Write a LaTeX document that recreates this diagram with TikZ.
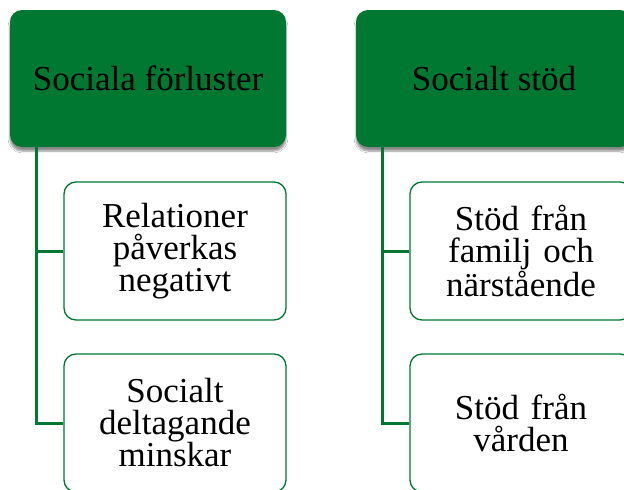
\documentclass[tikz,border=0pt]{standalone}
\usepackage{fontspec}
\setmainfont{Liberation Serif}
\usepackage{tikz}
\usetikzlibrary{shadows.blur}
\definecolor{hdgreen}{RGB}{0,120,50}

\tikzset{
  headbox/.style={rectangle, rounded corners=12pt, fill=hdgreen, minimum width=276pt, minimum height=137pt,
    inner sep=0pt, font=\fontsize{35}{32}\selectfont,
    blur shadow={shadow xshift=0pt, shadow yshift=-4pt, shadow blur steps=6, shadow opacity=45}},
  itembox/.style={rectangle, rounded corners=12pt, draw=hdgreen, line width=1.3pt, fill=white,
    minimum width=222pt, minimum height=138pt, text width=210pt, align=center, inner sep=0pt,
    font=\fontsize{35}{32}\selectfont},
  branch/.style={draw=hdgreen, line width=3pt}
}

\begin{document}
\begin{tikzpicture}[x=1pt,y=-1pt]
      \clip (0,0) rectangle (624,490);
      \fill[white] (0,0) rectangle (624,490);
      \node[name=loss, headbox] at (148,78.5) {Sociala förluster};
      \node[name=support, headbox] at (494,78.5) {Socialt stöd};
      \node[name=loss1, itembox] at (175,251) {Relationer\\påverkas\\negativt};
      \node[name=loss2, itembox] at (175,423) {Socialt\\deltagande\\minskar};
      \node[name=supp1, itembox] at (521,251) {Stöd från\\familj och\\närstående};
      \node[name=supp2, itembox] at (521,423) {Stöd från\\vården};
      \coordinate (losstrunk) at (loss.south west -| 36,0);
      \coordinate (supptrunk) at (support.south west -| 382,0);
      \draw[branch] (losstrunk) |- (loss1.west);
      \draw[branch] (losstrunk) |- (loss2.west);
      \draw[branch] (supptrunk) |- (supp1.west);
      \draw[branch] (supptrunk) |- (supp2.west);
   \end{tikzpicture}
\end{document}
